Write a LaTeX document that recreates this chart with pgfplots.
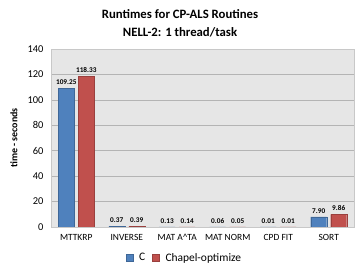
\documentclass[border=0pt]{standalone}
\usepackage{pgfplots}
\pgfplotsset{compat=1.18}
\usepackage{fontspec}
\setmainfont{Carlito}
\definecolor{cblue}{HTML}{4F81BD}
\definecolor{cred}{HTML}{C0504D}
\definecolor{bgg}{HTML}{E6E6E6}
\definecolor{gridg}{HTML}{B4B4B4}
\definecolor{boxg}{HTML}{C8C8C8}
\begin{document}
\begin{tikzpicture}
\path (0,0) rectangle (360bp,270bp);
\begin{axis}[
  at={(51bp,43bp)}, anchor=south west,
  scale only axis, width=303bp, height=178bp,
  ybar=4bp, bar width=16bp,
  xmin=-0.5, xmax=5.5, ymin=0, ymax=140,
  ytick={0,20,...,140},
  xtick=data,
  xticklabels={MTTKRP, INVERSE, MAT A\textasciicircum TA, MAT NORM, CPD FIT, SORT},
  major tick length=0pt,
  axis background/.style={fill=bgg},
  axis line style={boxg},
  ymajorgrids, grid style={gridg, line width=0.6pt},
  /pgf/number format/assume math mode=true,
  yticklabel style={font=\fontsize{10.5}{12}\selectfont, xshift=-4bp},
  xticklabel style={font=\fontsize{9.5}{11}\selectfont, yshift=-4bp},
  ylabel={\textbf{time - seconds}},
  ylabel style={font=\fontsize{11}{13}\selectfont},
  every axis y label/.style={at={(-37bp,89bp)}, anchor=center, rotate=90},
  nodes near coords,
  nodes near coords style={font=\bfseries\fontsize{7.3}{8}\selectfont, /pgf/number format/.cd, fixed, fixed zerofill, precision=2, assume math mode=true},
  legend columns=2,
  legend style={at={(0.432,-0.174)}, anchor=center, draw=none, fill=none,
    font=\fontsize{11.5}{13}\selectfont},
  legend image code/.code={\path (0bp,0bp) (16bp,0bp); \fill[#1] (5bp,-3bp) rectangle (12bp,4bp);},
]
\addplot[fill=cblue, draw=cblue!80!black] coordinates {(0,109.25) (1,0.37) (2,0.13) (3,0.06) (4,0.01) (5,7.90)};
\addplot[fill=cred, draw=cred!80!black] coordinates {(0,118.33) (1,0.39) (2,0.14) (3,0.05) (4,0.01) (5,9.86)};
\legend{C, Chapel-optimize}
\end{axis}
\node[font=\bfseries\fontsize{12.8}{15}\selectfont] at (180bp,256bp) {Runtimes for CP-ALS Routines};
\node[font=\bfseries\fontsize{12.8}{15}\selectfont] at (180bp,238bp) {NELL-2: 1 thread/task};
\end{tikzpicture}
\end{document}
